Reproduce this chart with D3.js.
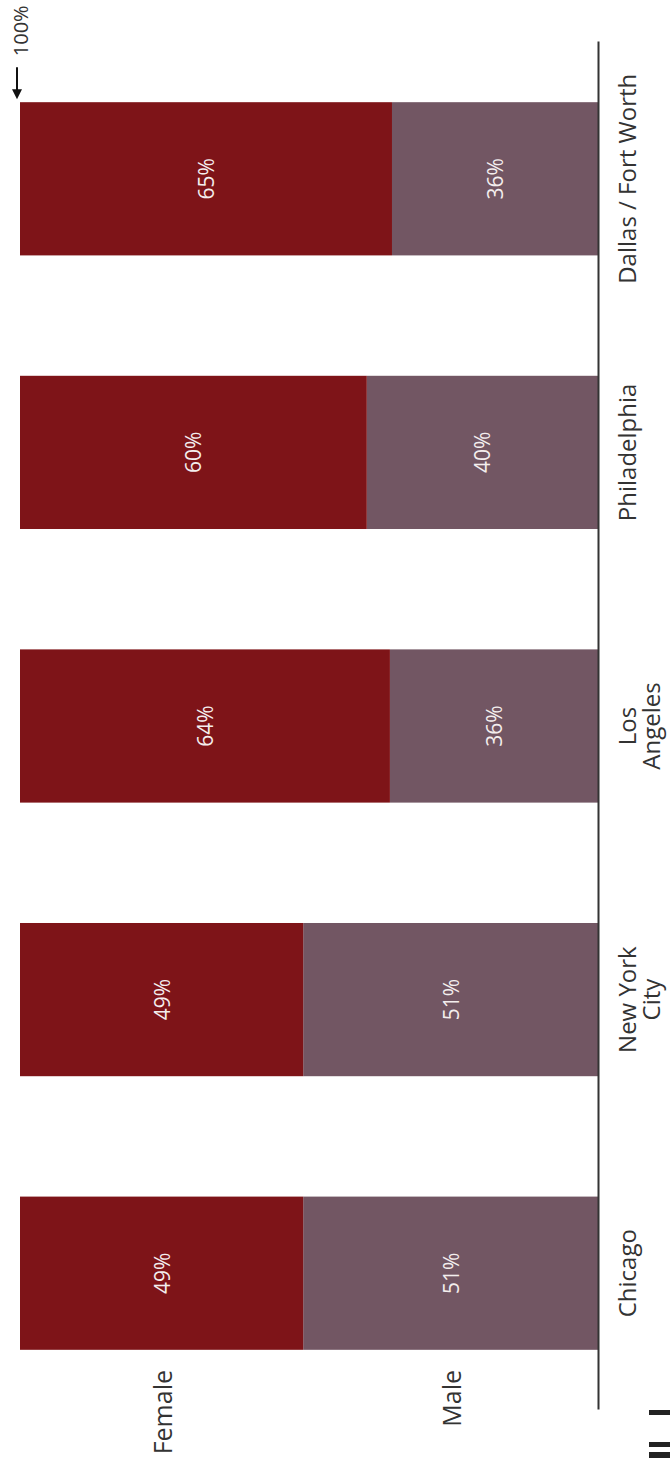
<!DOCTYPE html>
<html><head><meta charset="utf-8">
<script src="https://cdn.jsdelivr.net/npm/d3@7"></script>
<style>body{margin:0;background:#fff}svg{display:block}</style>
</head><body>
<svg id="c" width="670" height="1462"></svg>
<script>
const cities = ["Chicago", "New York City", "Los Angeles", "Philadelphia", "Dallas / Fort Worth"];
const cityLines = [["Chicago"], ["New York", "City"], ["Los", "Angeles"], ["Philadelphia"], ["Dallas / Fort Worth"]];
const female = [49, 49, 64, 60, 65];
const male = [51, 51, 36, 40, 36];
const seriesKeys = ["Male", "Female"];
const colors = {Female: "#7e1418", Male: "#725663"};
const topLabel = "100%";

const W = 1462, H = 670; // unrotated layout
const svg = d3.select("#c");
const g = svg.append("g").attr("transform", `translate(0,${W}) rotate(-90)`);

const rows = cities.map((c, i) => ({city: c, Female: female[i], Male: male[i]}));
const stack = d3.stack().keys(seriesKeys).offset(d3.stackOffsetExpand)(rows);

const x = d3.scaleBand().domain(cities).range([52, 1420]).paddingInner(0.44).paddingOuter(0.22);
const y = d3.scaleLinear().domain([0, 1]).range([598, 20]);

const font = "'Open Sans', sans-serif";

stack.forEach(s => {
  g.append("g").selectAll("rect").data(s).join("rect")
    .attr("x", d => x(d.data.city))
    .attr("width", x.bandwidth())
    .attr("y", d => y(d[1]))
    .attr("height", d => y(d[0]) - y(d[1]))
    .attr("fill", colors[s.key]);
  g.append("g").selectAll("text").data(s).join("text")
    .attr("x", d => x(d.data.city) + x.bandwidth() / 2)
    .attr("y", d => (y(d[0]) + y(d[1])) / 2)
    .attr("text-anchor", "middle")
    .attr("dominant-baseline", "central")
    .attr("fill", "#f4eeee")
    .style("font-family", font)
    .style("font-size", "21px")
    .text(d => d.data[s.key] + "%");
});

// axis
const ax = g.append("g").attr("transform", `translate(0,${y(0)})`)
  .call(d3.axisBottom(x).tickSize(0).tickSizeOuter(0).tickPadding(0));
ax.select(".domain").attr("stroke", "#333").attr("stroke-width", 2);
ax.selectAll(".tick text").each(function(d, i) {
  const t = d3.select(this);
  t.text(null).attr("y", 0).attr("dy", null)
    .style("font-family", font).style("font-size", "24px").attr("fill", "#333");
  cityLines[i].forEach((ln, k) => {
    t.append("tspan").attr("x", 0).attr("y", 38 + k * 24).text(ln);
  });
});

// legend (aligned to first bar segments)
stack.forEach(s => {
  const d = s[0];
  g.append("text")
    .attr("x", 92)
    .attr("y", (y(d[0]) + y(d[1])) / 2)
    .attr("text-anchor", "end")
    .attr("dominant-baseline", "central")
    .attr("fill", "#333")
    .style("font-family", font).style("font-size", "25px")
    .text(s.key);
});

// 100% arrow annotation
const lastX = x(cities[cities.length - 1]) + x.bandwidth();
const ay = y(1) - 3;
g.append("line").attr("x1", lastX + 35).attr("x2", lastX + 12)
  .attr("y1", ay).attr("y2", ay).attr("stroke", "#111").attr("stroke-width", 2);
g.append("path")
  .attr("d", `M${lastX + 3},${ay} L${lastX + 13},${ay - 5} L${lastX + 13},${ay + 5} Z`)
  .attr("fill", "#111");
g.append("text").attr("x", lastX + 46).attr("y", y(1))
  .attr("dominant-baseline", "central")
  .attr("fill", "#333").style("font-family", font).style("font-size", "20px")
  .text(topLabel);

// corner marks
const marks = [[47, 5], [15, 5], [4, 6]];
marks.forEach(([ox, w]) => {
  g.append("rect").attr("x", ox).attr("y", 649).attr("width", w).attr("height", 30).attr("fill", "#222");
});
</script>
</body></html>
